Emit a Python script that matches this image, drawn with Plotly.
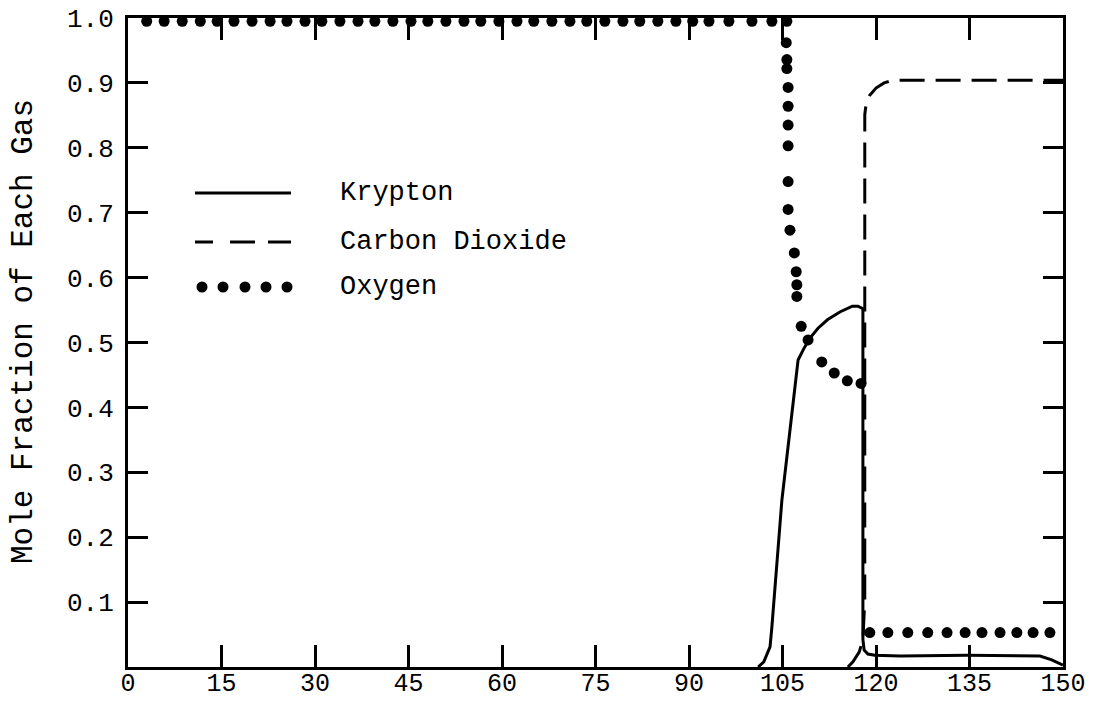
import plotly.graph_objects as go

# ---- axis ticks ----
x_ticks = [0, 15, 30, 45, 60, 75, 90, 105, 120, 135, 150]
x_tick_text = ["0", "15", "30", "45", "60", "75", "90", "105", "120", "135", "150"]
y_ticks = [0.1, 0.2, 0.3, 0.4, 0.5, 0.6, 0.7, 0.8, 0.9, 1.0]
y_tick_text = ["0.1", "0.2", "0.3", "0.4", "0.5", "0.6", "0.7", "0.8", "0.9", "1.0"]

# ---- Krypton (solid curve) ----
krypton_x = [101.1, 102.0, 103.0, 103.3, 104.9, 107.5, 108.5, 109.5, 110.7, 112.2,
             114.2, 116.2, 117.1, 117.9, 117.9, 117.9, 118.1, 118.7, 119.8, 123.9,
             134.6, 143.1, 146.3, 148.2, 150.0]
krypton_y = [0.0, 0.008, 0.031, 0.062, 0.257, 0.473, 0.492, 0.508, 0.522, 0.535,
             0.547, 0.556, 0.556, 0.552, 0.411, 0.042, 0.026, 0.020, 0.018, 0.017,
             0.018, 0.018, 0.017, 0.011, 0.003]

# ---- Carbon dioxide (dashed curve) ----
co2_x = [115.5, 116.3, 117.3, 117.9, 118.2, 118.2, 118.4, 119.0, 120.0, 121.3, 122.7, 150.0]
co2_y = [0.0, 0.008, 0.023, 0.042, 0.103, 0.851, 0.867, 0.881, 0.892, 0.900, 0.904, 0.904]

# ---- Oxygen (plotted points) ----
oxygen_x = [3.0, 5.8, 8.7, 11.6, 14.3, 17.0, 19.9, 22.8, 25.5, 28.4,
            31.1, 34.0, 36.9, 39.6, 42.5, 45.4, 48.1, 51.0, 53.9, 56.6,
            59.5, 62.4, 65.1, 68.0, 70.9, 73.6, 76.5, 79.4, 82.1, 85.0,
            87.9, 90.6, 93.2, 96.4, 100.1, 103.3, 105.7,
            105.6, 105.7, 105.7, 105.9, 105.9, 105.9, 105.9, 105.9, 105.9, 106.2,
            106.9, 107.2, 107.3, 107.3, 108.0, 109.1, 111.3, 113.3, 115.4, 117.6,
            119.0, 121.9, 125.1, 128.3, 131.4, 134.3, 137.0, 139.9, 142.6, 145.2, 147.9]
oxygen_y = [0.995] * 37 + [
            0.962, 0.936, 0.922, 0.893, 0.864, 0.835, 0.803, 0.748, 0.705, 0.673,
            0.638, 0.609, 0.589, 0.571, 0.525, 0.504, 0.470, 0.453, 0.441, 0.437,
            0.053, 0.053, 0.053, 0.053, 0.053, 0.053, 0.053, 0.053, 0.053, 0.053, 0.053]

legend_labels = ["Krypton", "Carbon Dioxide", "Oxygen"]

FONT = "Liberation Mono, Courier New, monospace"
INK = "black"

fig = go.Figure()
fig.add_trace(go.Scatter(x=krypton_x, y=krypton_y, mode="lines",
                         line=dict(color=INK, width=3), cliponaxis=False,
                         name="Krypton", showlegend=False))
fig.add_trace(go.Scatter(x=co2_x, y=co2_y, mode="lines",
                         line=dict(color=INK, width=3, dash="25px,11px"), cliponaxis=False,
                         name="Carbon Dioxide", showlegend=False))
fig.add_trace(go.Scatter(x=oxygen_x, y=oxygen_y, mode="markers",
                         marker=dict(color=INK, size=11, line=dict(width=0)), cliponaxis=False,
                         name="Oxygen", showlegend=False))

# ---- hand-placed key in the upper left ----
L, T, W, H = 128, 18, 935, 649  # plot area in pixels


def px(xp):
    return (xp - L) / W


def py(yp):
    return (T + H - yp) / H


shapes = []
key_rows = [193, 242, 287]
# solid sample
shapes.append(dict(type="line", xref="paper", yref="paper", x0=px(195), x1=px(291),
                   y0=py(key_rows[0]), y1=py(key_rows[0]), line=dict(color=INK, width=3)))
# dashed sample
for a, b in [(195, 213), (230, 255), (268, 291)]:
    shapes.append(dict(type="line", xref="paper", yref="paper", x0=px(a), x1=px(b),
                       y0=py(key_rows[1]), y1=py(key_rows[1]), line=dict(color=INK, width=3)))
# dotted sample
for cx in [202, 223, 245, 266, 287]:
    shapes.append(dict(type="circle", xref="paper", yref="paper",
                       xsizemode="pixel", ysizemode="pixel",
                       xanchor=px(cx), yanchor=py(key_rows[2]),
                       x0=-5.5, x1=5.5, y0=-5.5, y1=5.5,
                       fillcolor=INK, line=dict(width=0)))

annotations = []
for lbl, row in zip(legend_labels, key_rows):
    annotations.append(dict(text=lbl, xref="paper", yref="paper", x=px(338), y=py(row),
                            xanchor="left", yanchor="middle", showarrow=False,
                            font=dict(family=FONT, size=27, color=INK)))
annotations.append(dict(text="Mole Fraction of Each Gas", xref="paper", yref="paper",
                        x=px(24), y=py(332), xanchor="center", yanchor="middle",
                        textangle=-90, showarrow=False,
                        font=dict(family=FONT, size=31, color=INK)))

fig.update_layout(
    width=1109, height=701,
    margin=dict(l=L, r=1109 - L - W, t=T, b=701 - T - H),
    paper_bgcolor="white", plot_bgcolor="white",
    shapes=shapes, annotations=annotations,
    showlegend=False,
)
fig.update_xaxes(range=[0, 150], tickvals=x_ticks, ticktext=x_tick_text,
                 automargin=False,
                 ticks="inside", ticklen=22, tickwidth=3, tickcolor=INK,
                 showline=True, linewidth=3, linecolor=INK, mirror="ticks",
                 showgrid=False, zeroline=False, ticklabelstandoff=-9,
                 tickfont=dict(family=FONT, size=25, color=INK))
fig.update_yaxes(range=[0, 1.0], tickvals=y_ticks, ticktext=y_tick_text,
                 automargin=False,
                 ticks="inside", ticklen=20, tickwidth=3, tickcolor=INK,
                 showline=True, linewidth=3, linecolor=INK, mirror="ticks",
                 showgrid=False, zeroline=False, ticklabelstandoff=6,
                 tickfont=dict(family=FONT, size=26, color=INK))

fig.write_html("out.html")
